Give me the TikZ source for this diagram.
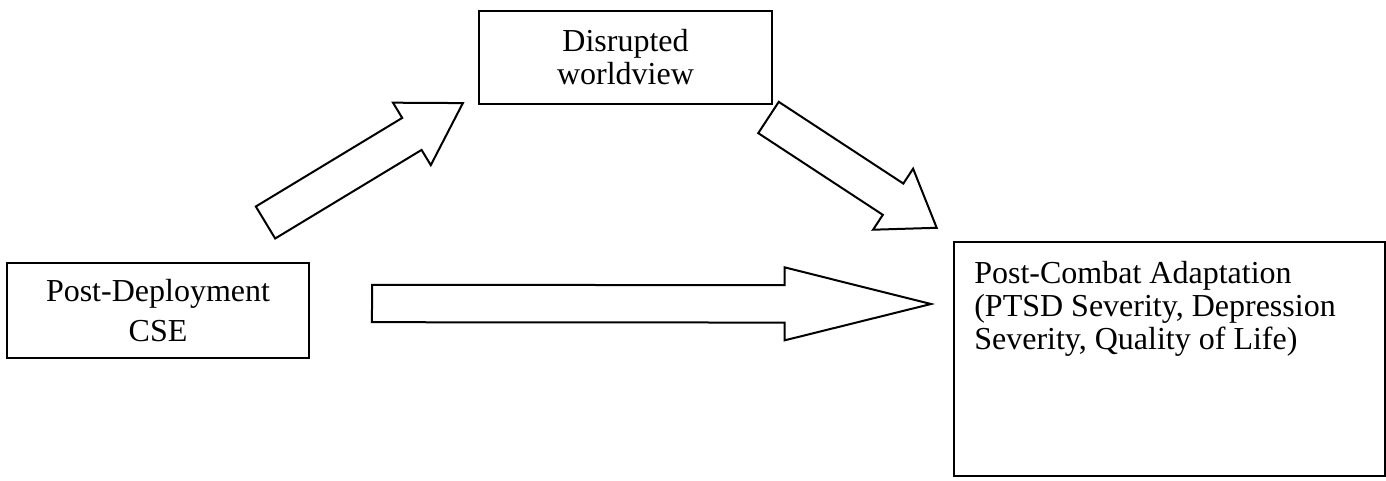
\documentclass[tikz,border=0pt]{standalone}
\usepackage{fontspec}
\setmainfont{Liberation Serif}
\usetikzlibrary{shapes.arrows, calc, positioning}

\tikzset{%
   % boxes of the model, text in Times-like serif
   box/.style={
      draw,
      line width=1.1pt,
      inner sep=0pt,
      align=center,
      font=\fontsize{16}{16.5}\selectfont
   },
   boxtext/.style={
      inner sep=0pt,
      align=left,
      font=\fontsize{16}{16.5}\selectfont
   },
   % hollow block arrow, placed at its tail; the shaft is as wide as 2*inner ysep
   blockarrow/.style={
      single arrow,
      draw,
      fill=white,
      line width=1pt,
      inner xsep=0pt,
      inner ysep=8.85pt,
      outer sep=0pt,
      single arrow head extend=8.9pt,
      single arrow head indent=0pt,
      anchor=tail
   },
}

\begin{document}
\begin{tikzpicture}[x=0.5pt, y=-0.5pt]
  \useasboundingbox (0,0) rectangle (1386,481);

  \node[box, minimum width=151pt, minimum height=47.5pt] (cse) at (158,310.5)
     {Post-Deployment\\[3.5pt]CSE};
  \node[box, minimum width=146.5pt, minimum height=46.5pt] (world) at (625.5,57.5)
     {Disrupted\\worldview};
  \node[box, minimum width=215.5pt, minimum height=117pt] (adapt) at (1169.5,359) {};
  \node[boxtext, anchor=north west] (adapttext)
     at ([shift={(21,20)}]adapt.north west)
     {Post-Combat Adaptation\\(PTSD Severity, Depression\\Severity, Quality of Life)};

  \coordinate (uptail)     at (265.5,222.5);
  \coordinate (uptip)      at (463,103);
  \coordinate (downtail)   at (768.5,117.5);
  \coordinate (downtip)    at (937,228);
  \coordinate (directtail) at (372,303.5);
  \coordinate (directtip)  at (931,304);

  \path let \p1=($(uptip)-(uptail)$) in
     node[blockarrow, single arrow tip angle=63, rotate={atan2(\y1,\x1)},
          minimum height={veclen(\x1,\y1)}] (up) at (uptail) {};
  \path let \p1=($(downtip)-(downtail)$) in
     node[blockarrow, single arrow tip angle=70, rotate={atan2(\y1,\x1)},
          minimum height={veclen(\x1,\y1)}] (down) at (downtail) {};
  \path let \p1=($(directtip)-(directtail)$) in
     node[blockarrow, single arrow tip angle=28, rotate={atan2(\y1,\x1)},
          minimum height={veclen(\x1,\y1)}] (direct) at (directtail) {};
\end{tikzpicture}
\end{document}
